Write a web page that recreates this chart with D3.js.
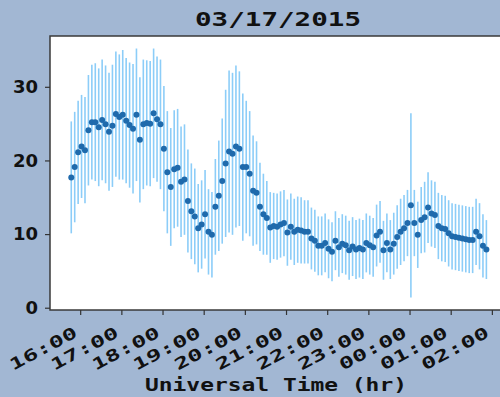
<!DOCTYPE html>
<html>
<head>
<meta charset="utf-8">
<script src="https://cdn.jsdelivr.net/npm/d3@7"></script>
<style>
  body { margin: 0; background: #a2b7d3; }
  svg { display: block; }
</style>
</head>
<body>
<script>
// sample times (UT), roughly every 5 minutes
var times = [
  "15:47","15:52","15:57",
  "16:02","16:07","16:12","16:17","16:22","16:27","16:32","16:37","16:42","16:47","16:52","16:57",
  "17:02","17:07","17:12","17:17","17:22","17:27","17:32","17:37","17:42","17:47","17:52","17:57",
  "18:02","18:07","18:12","18:17","18:22","18:27","18:32","18:37","18:42","18:47","18:52","18:57",
  "19:02","19:07","19:12","19:17","19:22","19:27","19:32","19:37","19:42","19:47","19:52","19:57",
  "20:02","20:07","20:12","20:17","20:22","20:27","20:32","20:37","20:42","20:47","20:52","20:57",
  "21:02","21:07","21:12","21:17","21:22","21:27","21:32","21:37","21:42","21:47","21:52","21:57",
  "22:02","22:07","22:12","22:17","22:22","22:27","22:32","22:37","22:42","22:47","22:52","22:57",
  "23:02","23:07","23:12","23:17","23:22","23:27","23:32","23:37","23:42","23:47","23:52","23:57",
  "00:02","00:07","00:12","00:17","00:22","00:27","00:32","00:37","00:42","00:47","00:52","00:57",
  "01:02","01:07","01:12","01:17","01:22","01:27","01:32","01:37","01:42","01:47","01:52"
]

var values = [
  17.7,19.1,21.1,21.9,21.4,24.1,25.2,25.2,24.5,25.5,24.9,23.9,24.7,26.3,25.9,
  26.2,25.4,24.8,24.3,26.2,22.8,24.9,25.1,25.0,26.4,25.6,24.9,21.6,18.4,16.4,
  18.8,19.0,17.1,17.4,14.5,13.1,12.4,10.8,11.3,12.7,10.3,9.9,13.7,15.2,17.2,
  19.6,21.2,20.9,21.9,21.6,19.1,19.1,18.2,15.9,15.6,13.7,12.7,12.2,10.9,11.1,
  11.0,11.3,11.5,10.2,11.0,10.3,10.6,10.5,10.3,10.3,9.4,9.1,8.4,8.4,8.8,
  8.0,7.6,9.1,8.2,8.7,8.5,7.8,8.3,7.9,8.1,7.9,8.8,8.5,8.2,9.8,
  10.3,7.8,8.8,7.9,8.7,9.6,10.3,10.8,11.5,13.9,11.5,9.9,11.9,12.3,13.6,
  12.8,12.6,11.1,10.8,10.7,10.1,9.7,9.6,9.5,9.4,9.3,9.2,9.2,10.3,9.7,
  8.4,7.9
]

// half-width of each error bar
var errs = [
  7.6,7.5,7.0,7.0,7.2,7.5,7.8,8.0,8.0,8.2,8.0,8.0,8.3,8.5,8.5,
  8.8,8.5,8.5,8.8,9.0,8.5,8.8,8.5,8.5,8.8,8.5,8.8,8.5,8.3,8.0,
  8.0,8.0,7.5,7.5,7.0,6.5,6.5,6.0,6.0,6.0,5.8,5.8,6.5,7.5,8.5,
  10.0,11.0,11.0,11.0,10.5,10.0,9.0,8.5,7.5,7.0,6.0,5.5,5.0,4.8,4.5,
  4.5,4.5,4.5,4.5,4.5,4.5,4.5,4.5,4.3,4.3,4.2,4.2,4.0,4.0,4.0,
  4.0,4.0,4.0,4.0,4.0,4.0,4.0,4.0,4.0,4.0,4.0,4.0,4.0,4.0,4.2,
  4.2,4.0,4.0,4.0,4.2,4.3,4.5,4.5,4.5,12.5,4.5,4.5,4.5,4.8,4.8,
  4.5,4.5,4.5,4.5,4.5,4.5,4.5,4.5,4.5,4.5,4.5,4.5,4.5,4.5,4.5,
  4.3,4.0
]

var yTicks = [0, 10, 20, 30]
var title = "03/17/2015"
var xLabel = "Universal Time (hr)"

var W = 500, H = 397
var plot = {left: 50, top: 36, right: 520, bottom: 310}

var parse = d3.timeParse("%H:%M")
function toDate(s) {
  var d = parse(s)
  if (d.getHours() < 12) d = d3.timeDay.offset(d, 1)  // past midnight
  return d
}

var data = times.map(function(t, i){
  return {t: toDate(t), v: values[i], e: errs[i]}
})

var svg = d3.select("body").append("svg")
  .attr("width", W).attr("height", H)

svg.append("rect").attr("width", W).attr("height", H).attr("fill", "#a2b7d3")

var x = d3.scaleTime()
  .domain([toDate("15:16"), toDate("02:41")])
  .range([plot.left, plot.right])

var y = d3.scaleLinear()
  .domain([-0.31, 36.9])
  .range([plot.bottom, plot.top])

svg.append("rect")
  .attr("x", plot.left).attr("y", plot.top)
  .attr("width", plot.right - plot.left).attr("height", plot.bottom - plot.top)
  .attr("fill", "#fff")

// error bars
svg.append("g").selectAll("line").data(data).enter()
  .append("line")
    .attr("x1", function(d){return x(d.t)})
    .attr("x2", function(d){return x(d.t)})
    .attr("y1", function(d){return y(d.v - d.e)})
    .attr("y2", function(d){return y(d.v + d.e)})
    .attr("stroke", "#8ccdf8")
    .attr("stroke-width", 1.6)

// points
svg.append("g").selectAll("circle").data(data).enter()
  .append("circle")
    .attr("cx", function(d){return x(d.t)})
    .attr("cy", function(d){return y(d.v)})
    .attr("r", 3)
    .attr("fill", "#1f6aac")

// frame
svg.append("rect")
  .attr("x", plot.left).attr("y", plot.top)
  .attr("width", plot.right - plot.left).attr("height", plot.bottom - plot.top)
  .attr("fill", "none").attr("stroke", "#3a3a3a").attr("stroke-width", 1.5)

var yAxis = svg.append("g")
  .attr("transform", "translate(" + plot.left + ",0)")
  .call(d3.axisLeft(y).tickValues(yTicks).tickSize(5).tickPadding(7))
yAxis.select(".domain").remove()
yAxis.selectAll("line").attr("stroke", "#333").attr("stroke-width", 1.2)
yAxis.selectAll("text")
  .attr("font-family", "DejaVu Sans, sans-serif")
  .attr("font-weight", "bold").attr("font-size", 18).attr("fill", "#111")

var xAxis = svg.append("g")
  .attr("transform", "translate(0," + plot.bottom + ")")
  .call(d3.axisBottom(x).ticks(d3.timeHour.every(1)).tickFormat(d3.timeFormat("%H:%M")).tickSize(5))
xAxis.select(".domain").remove()
xAxis.selectAll("line").attr("stroke", "#333").attr("stroke-width", 1.2)
xAxis.selectAll("text")
  .attr("font-family", "DejaVu Sans Mono, monospace")
  .attr("font-weight", "bold").attr("font-size", 16).attr("fill", "#111")
  .attr("text-anchor", "end")
  .attr("textLength", 74).attr("lengthAdjust", "spacingAndGlyphs")
  .attr("y", 0).attr("dy", 0)
  .attr("transform", "translate(-2,26) rotate(-28)")

svg.append("text")
  .attr("x", 278).attr("y", 26)
  .attr("text-anchor", "middle")
  .attr("font-family", "DejaVu Sans Mono, monospace")
  .attr("font-weight", "bold").attr("font-size", 20).attr("fill", "#111")
  .attr("textLength", 166).attr("lengthAdjust", "spacingAndGlyphs")
  .text(title)

svg.append("text")
  .attr("x", 276).attr("y", 391)
  .attr("text-anchor", "middle")
  .attr("font-family", "DejaVu Sans Mono, monospace")
  .attr("font-weight", "bold").attr("font-size", 17).attr("fill", "#111")
  .attr("textLength", 262).attr("lengthAdjust", "spacingAndGlyphs")
  .text(xLabel)
</script>
</body>
</html>
